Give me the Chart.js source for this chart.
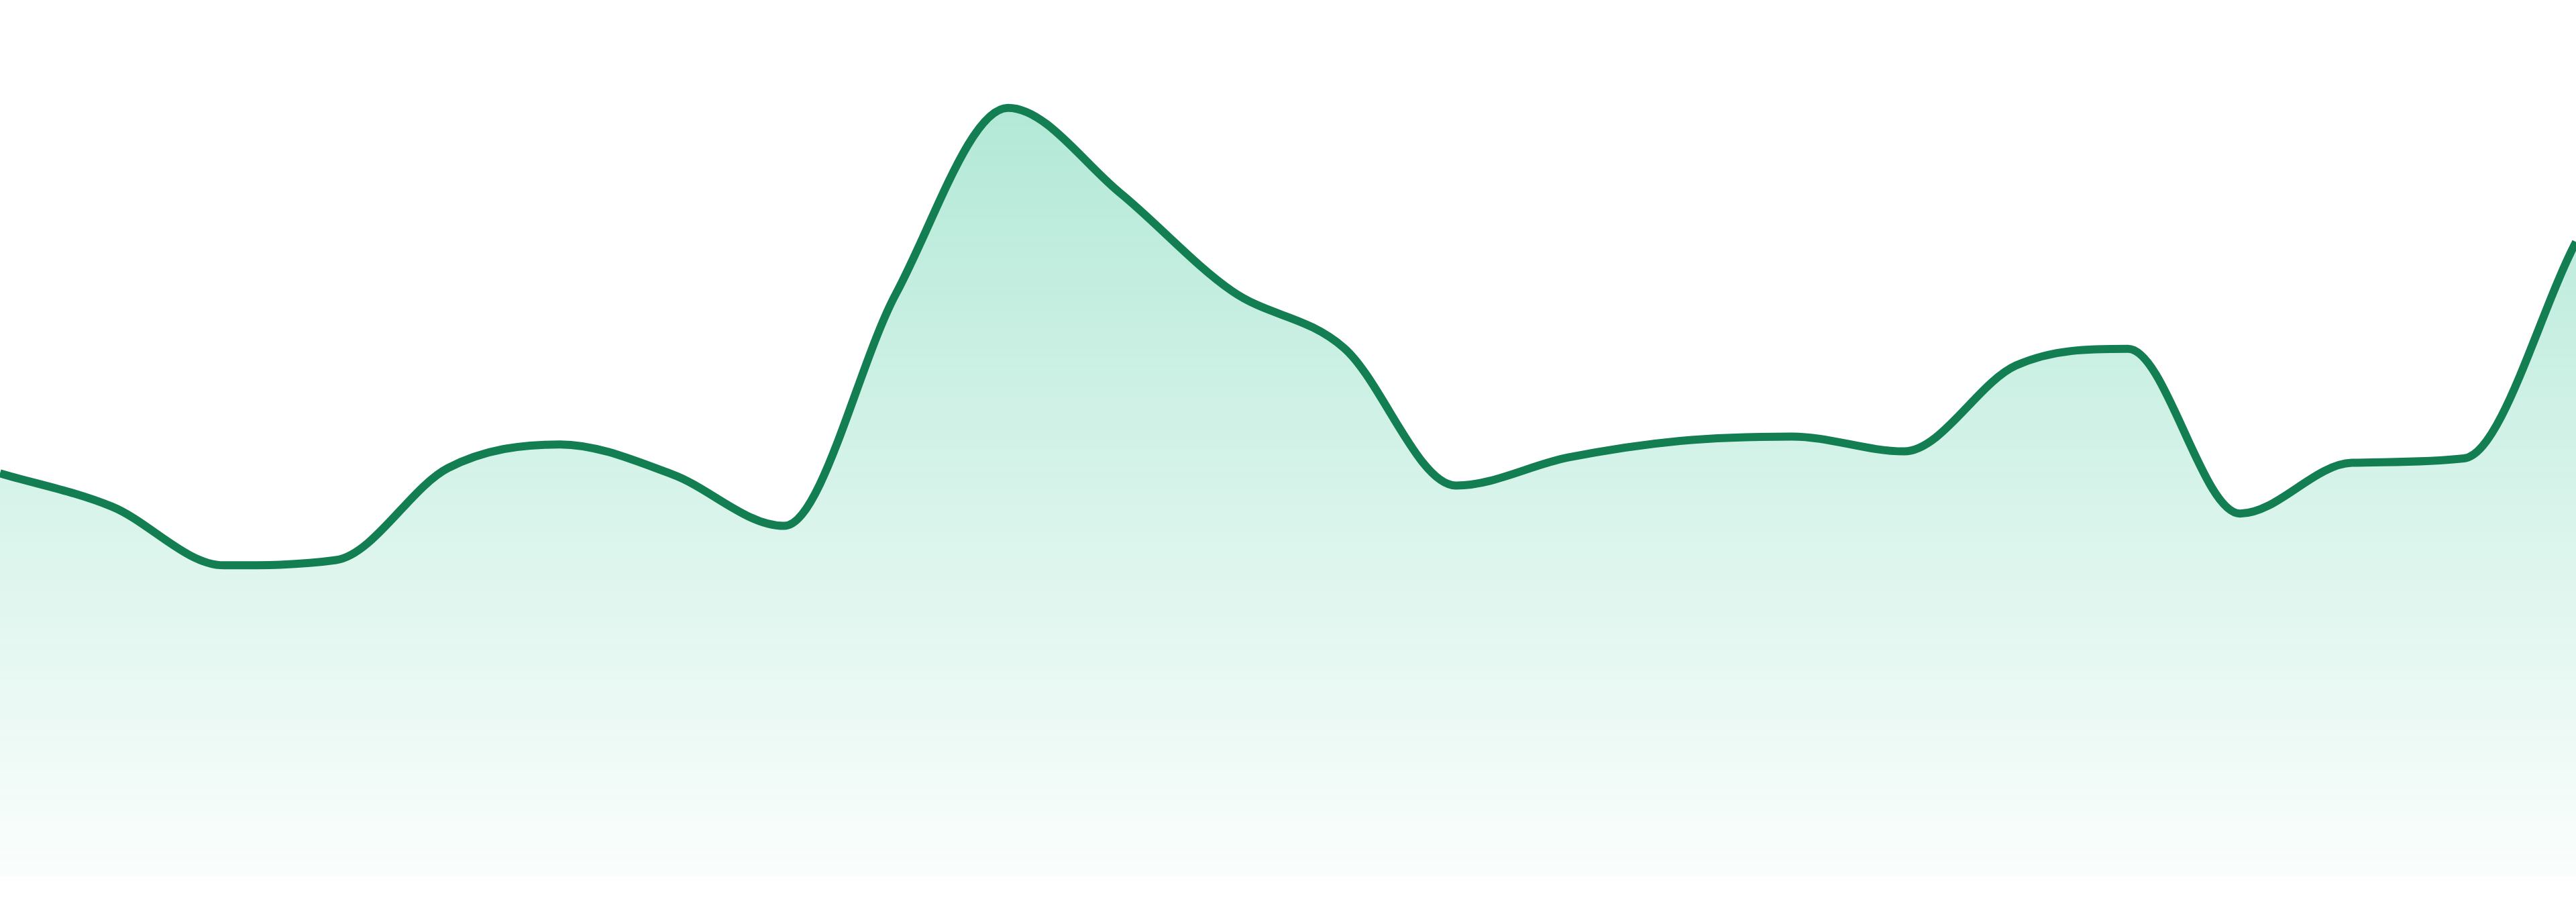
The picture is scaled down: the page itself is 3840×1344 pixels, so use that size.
<!doctype html>
<html>

<head>
  <title>Area Trend</title>
</head>
<style>
  html,
  body {
    margin: 0;
    padding: 0;
    background: #ffffff;
  }

  .chartContainer {
    position: relative;
    width: 3840px;
    height: 1344px;
  }
</style>

<body>
  <div class="chartContainer">
    <canvas id="trendId"></canvas>
  </div>
  <script src="https://cdn.jsdelivr.net/npm/chart.js@4/dist/chart.umd.min.js"></script>
  <script>
    var labels = ["1", "2", "3", "4", "5", "6", "7", "8", "9", "10", "11", "12",
      "13", "14", "15", "16", "17", "18", "19", "20", "21", "22", "23", "24"];
    var values = [46.0, 42.2, 35.5, 36.1, 46.6, 49.3, 45.9, 40.0, 66.5, 87.7, 78.0, 66.8,
      60.3, 44.6, 47.8, 49.7, 50.2, 48.5, 58.3, 60.2, 41.4, 47.2, 47.7, 72.4];
    var yMin = 0;
    var yMax = 100;

    function areaFill(context) {
      var area = context.chart.chartArea;
      if (!area) {
        return "rgba(16,185,129,0.2)";
      }
      var ctx = context.chart.ctx;
      var grad = ctx.createLinearGradient(0, area.top, 0, area.bottom);
      grad.addColorStop(0, "rgba(16,185,129,0.36)");
      grad.addColorStop(1, "rgba(16,185,129,0.02)");
      return grad;
    }

    function renderChart() {
      var ctx = document.getElementById("trendId").getContext('2d');
      var myChart = new Chart(ctx, {
        type: 'line',
        data: {
          labels: labels,
          datasets: [{
            data: values,
            borderColor: "#127e52",
            borderWidth: 12,
            backgroundColor: areaFill,
            fill: 'start',
            pointRadius: 0,
            pointHoverRadius: 0,
            cubicInterpolationMode: 'monotone'
          }]
        },
        options: {
          responsive: true,
          maintainAspectRatio: false,
          animation: false,
          layout: {
            padding: { left: 0, right: 0, top: 0, bottom: 38 }
          },
          plugins: {
            legend: { display: false },
            tooltip: { enabled: false }
          },
          scales: {
            x: { display: false, offset: false },
            y: { display: false, min: yMin, max: yMax }
          }
        }
      });
    }

    renderChart();
  </script>
</body>

</html>
